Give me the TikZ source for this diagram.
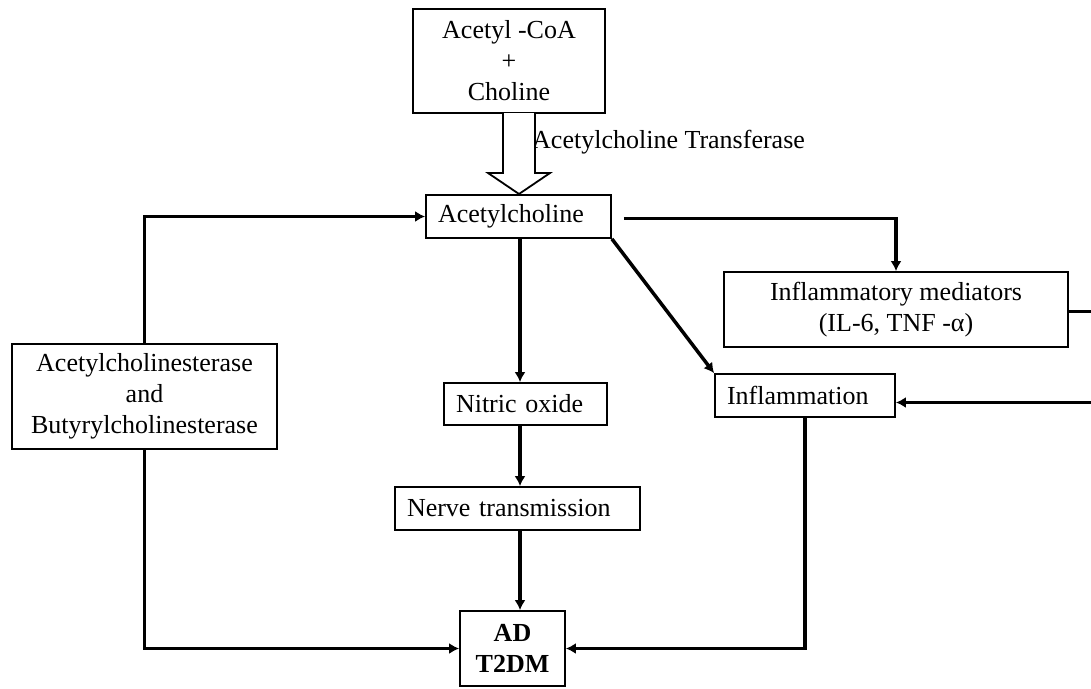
\documentclass[tikz,border=0pt]{standalone}
\usepackage{fontspec}
\setmainfont{Liberation Serif}
\usetikzlibrary{arrows.meta,calc}
\begin{document}
\begin{tikzpicture}[x=1pt,y=-1pt,
  box/.style={draw=black, line width=1.8pt, inner sep=0pt, align=center, font=\fontsize{26}{31}\selectfont},
  lbox/.style={box, align=left, inner xsep=12pt, inner ysep=0pt},
  conn/.style={line width=3.5pt, -{Latex[length=10pt,width=11pt]}},
  hollow/.style={draw=black, line width=1.8pt, fill=white, line join=miter}]
\useasboundingbox[fill=white] (0,0) rectangle (1091,688);
\node[box, minimum width=192pt, minimum height=104pt] (coa) at (509,61) {Acetyl -CoA\\+\\Choline};
\node[lbox, text width=161pt, minimum height=43pt] (ach) at (518.5,216.5) {Acetylcholine};
\node[box, minimum width=344pt, minimum height=75pt] (im) at (896,309.5) {Inflammatory mediators\\(IL-6, TNF -α)};
\node[lbox, text width=156pt, minimum height=43pt] (infl) at (805,395.5) {Inflammation};
\node[box, minimum width=265pt, minimum height=105pt] (ache) at (144.5,396.5) {Acetylcholinesterase\\and\\Butyrylcholinesterase};
\node[lbox, text width=139pt, minimum height=42pt] (no) at (525.5,404) {Nitric oxide};
\node[lbox, text width=221pt, minimum height=43pt] (nt) at (517.5,508.5) {Nerve transmission};
\node[box, minimum width=105pt, minimum height=75pt, font=\fontsize{26}{31}\selectfont\bfseries] (ad) at (512.5,648.5) {AD\\T2DM};
\node[anchor=west, inner sep=0pt, font=\fontsize{26}{31}\selectfont] (lbl) at (532,142) {Acetylcholine Transferase};
% hollow arrow from precursors to acetylcholine
\draw[hollow] (503,113) -- (503,173) -- (488,173) -- (519,194) -- (550,173) -- (535,173) -- (535,113);
\coordinate (vx) at (520,0);
\draw[conn] ([xshift=12pt,yshift=-2pt]ach.east) -| (im.north);
\draw[conn] (ach.south east) -- (infl.north west);
\draw[conn] (ach.south -| vx) -- (no.north -| vx);
\draw[conn] (no.south -| vx) -- (nt.north -| vx);
\draw[conn] (nt.south -| vx) -- (ad.north -| vx);
\draw[conn] (ache.north) |- (ach.west);
\draw[conn] (ache.south) |- (ad.west);
\draw[conn] (infl.south) |- (ad.east);
\draw[conn] ([yshift=-2pt]im.east) -- ++(30,0) |- ([yshift=-7pt]infl.east);
\end{tikzpicture}
\end{document}
